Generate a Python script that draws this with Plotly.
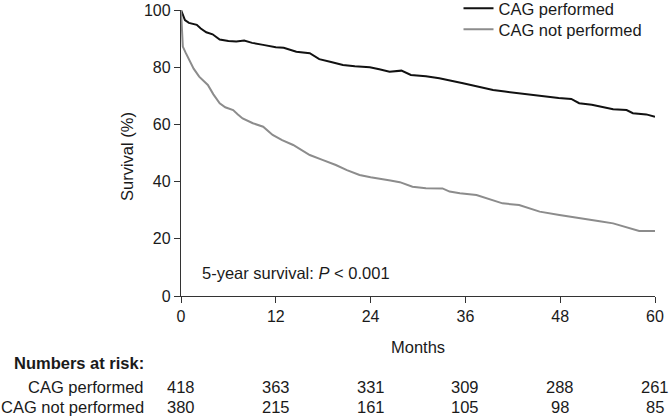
import plotly.graph_objects as go

# Kaplan-Meier survival estimates
months_perf = [0, 0.3, 0.5, 1, 2, 2.5, 3.2, 4, 4.9, 6, 7, 8, 9, 10.4, 12, 13, 14.6, 16.3, 17.5, 19,
               20.5, 22, 23.9, 25.1, 26.4, 27.9, 29.1, 31, 32.7, 35.7, 37.5, 39.5, 41, 42.8, 44.5,
               46.2, 47.8, 49.4, 50.4, 52, 53.4, 54.7, 56.4, 57.2, 58.9, 60]
surv_perf = [100, 97.5, 96.5, 95.5, 94.8, 93.5, 92.2, 91.5, 89.7, 89.2, 89, 89.3, 88.5, 87.8, 87, 86.8,
             85.4, 84.9, 82.8, 81.8, 80.8, 80.3, 80, 79.3, 78.4, 78.8, 77.3, 76.8, 76.1, 74.4, 73.3,
             72, 71.5, 70.9, 70.3, 69.7, 69.2, 68.9, 67.4, 66.9, 66.2, 65.3, 65, 63.9, 63.5, 62.7]

months_not = [0, 0.1, 0.23, 0.6, 1.08, 1.6, 2.3, 2.9, 3.4, 4.1, 4.9, 5.6, 6.6, 7.2, 7.8, 9.1, 10.4,
              11.6, 12.8, 14.2, 15, 16.3, 17.9, 19.6, 21, 22.6, 24, 25.1, 26.5, 27.7, 29.3, 31, 33.1,
              34, 35.3, 37.4, 39, 40.7, 42.8, 44, 45.4, 47.9, 50, 51.7, 53, 54.7, 56.4, 58, 60]
surv_not = [100, 93, 87.2, 85, 82.5, 79.5, 76.7, 75, 73.8, 70.5, 67.4, 66, 65, 63.5, 62.1, 60.4, 59.2,
            56.3, 54.5, 52.8, 51.5, 49.3, 47.6, 45.8, 44, 42.3, 41.5, 41.1, 40.4, 39.8, 38.2, 37.7,
            37.6, 36.5, 35.9, 35.3, 33.8, 32.4, 31.8, 30.7, 29.5, 28.3, 27.5, 26.6, 26.1, 25.4, 24,
            22.7, 22.7]

x_ticks = [0, 12, 24, 36, 48, 60]
y_ticks = [0, 20, 40, 60, 80, 100]
risk_perf = [418, 363, 331, 309, 288, 261]
risk_not = [380, 215, 161, 105, 98, 85]
group_names = ["CAG performed", "CAG not performed"]

FONT = "Liberation Sans, Arial, sans-serif"
TXT = "#1a1a1a"
FS = 16.5

fig = go.Figure()
fig.add_trace(go.Scatter(x=months_perf, y=surv_perf, mode="lines", name=group_names[0],
                         line=dict(color="#111111", width=2), legend="legend"))
fig.add_trace(go.Scatter(x=months_not, y=surv_not, mode="lines", name=group_names[1],
                         line=dict(color="#8c8c8c", width=2), legend="legend2"))

# plot area: x 181..655, y 10..296
L, R, T, B = 181, 655, 10, 296
W, H = float(R - L), float(B - T)
def ypaper(ypx):
    return (B - ypx) / H
def xpaper(xpx):
    return (xpx - L) / W

annotations = []
annotations.append(dict(x=xpaper(200), y=ypaper(272.7), xref="paper", yref="paper",
                        text="5-year survival: <i>P</i> < 0.001", showarrow=False,
                        xanchor="left", yanchor="middle", font=dict(size=FS, color=TXT)))
annotations.append(dict(x=30, y=ypaper(346.7), xref="x", yref="paper", text="Months",
                        showarrow=False, xanchor="center", yanchor="middle",
                        font=dict(size=FS, color=TXT)))
annotations.append(dict(x=xpaper(127), y=ypaper(157), xref="paper", yref="paper",
                        text="Survival (%)", textangle=-90, showarrow=False,
                        xanchor="center", yanchor="middle", font=dict(size=FS, color=TXT)))
lab_x = xpaper(146)
annotations.append(dict(x=lab_x, y=ypaper(363), xref="paper", yref="paper",
                        text="<b>Numbers at risk:</b>", showarrow=False, xanchor="right",
                        yanchor="middle", font=dict(size=FS, color=TXT)))
for name, row, ypx in [(group_names[0], risk_perf, 386.7), (group_names[1], risk_not, 406.7)]:
    annotations.append(dict(x=lab_x, y=ypaper(ypx), xref="paper", yref="paper", text=name,
                            showarrow=False, xanchor="right", yanchor="middle",
                            font=dict(size=FS, color=TXT)))
    for xv, n in zip(x_ticks, row):
        annotations.append(dict(x=xv, y=ypaper(ypx), xref="x", yref="paper", text=str(n),
                                showarrow=False, xanchor="center", yanchor="middle",
                                font=dict(size=FS, color=TXT)))

leg_common = dict(xanchor="left", yanchor="top", bgcolor="rgba(0,0,0,0)",
                  font=dict(size=FS, color=TXT), itemwidth=30)

fig.update_layout(
    width=669, height=416,
    margin=dict(l=L, r=669 - R, t=T, b=416 - B, autoexpand=False),
    paper_bgcolor="white", plot_bgcolor="white",
    font=dict(family=FONT, size=FS, color=TXT),
    showlegend=True,
    legend=dict(x=xpaper(458.5), y=ypaper(-9), **leg_common),
    legend2=dict(x=xpaper(458.5), y=ypaper(12), **leg_common),
    xaxis=dict(range=[0, 60], tickvals=x_ticks, ticks="outside", ticklen=6, tickwidth=1.3,
               tickcolor="#333", showline=True, linecolor="#333", linewidth=1.3,
               showgrid=False, zeroline=False, tickfont=dict(size=16, color=TXT)),
    yaxis=dict(range=[0, 100], tickvals=y_ticks, ticks="outside", ticklen=6, tickwidth=1.3,
               tickcolor="#333", showline=True, linecolor="#333", linewidth=1.3,
               showgrid=False, zeroline=False, tickfont=dict(size=16, color=TXT)),
    annotations=annotations,
)

fig.write_html("out.html", config={"displayModeBar": False},
               post_script="document.body.style.margin='0px';document.body.style.overflow='hidden';")
